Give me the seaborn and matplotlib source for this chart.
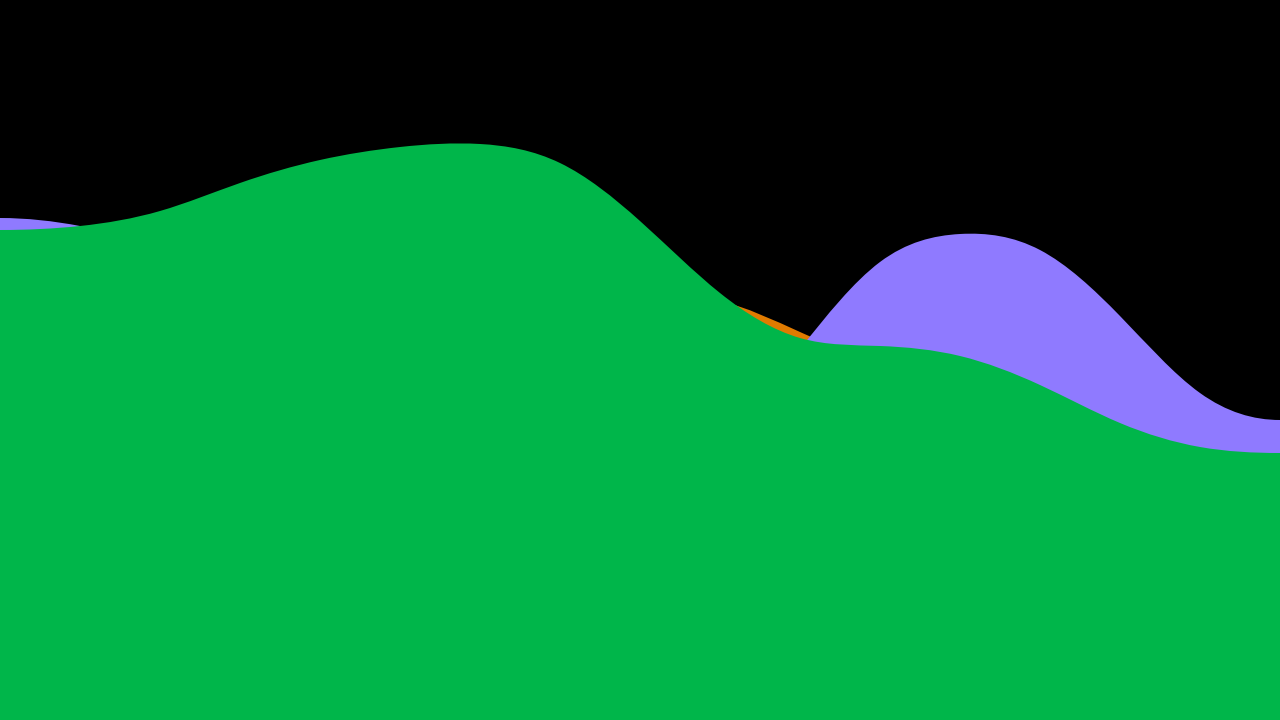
import numpy as np
import seaborn as sns
import matplotlib.pyplot as plt
from matplotlib.path import Path
from matplotlib.patches import PathPatch

# values, one per x step
x_steps = list(range(17))
green_vals = [490, 494, 509, 537, 560, 573, 576, 557, 499, 427, 382, 374, 364, 335, 297, 273, 267]
purple_vals = [502, 494, 475, 455, 435, 420, 400, 370, 320, 295, 371, 458, 486, 470, 404, 327, 300]
orange_vals = [420, 425, 430, 440, 450, 455, 458, 445, 428, 419, 388, 355, 330, 310, 280, 260, 250]

series_names = ['orange', 'purple', 'green']
series_colors = ['#E07B00', '#8F7AFF', '#00B64A']


def spline_tangents(x, y):
    # clamped cubic spline (flat ends), even x spacing
    x = np.asarray(x, float)
    y = np.asarray(y, float)
    n = len(x)
    h = x[1] - x[0]
    A = np.zeros((n, n))
    b = np.zeros(n)
    A[0, 0] = A[-1, -1] = 1.0
    for i in range(1, n - 1):
        A[i, i - 1], A[i, i], A[i, i + 1] = 1.0, 4.0, 1.0
        b[i] = 3 * (y[i + 1] - y[i - 1]) / h
    return np.linalg.solve(A, b)


def area_path(x, y, base=0.0):
    t = spline_tangents(x, y)
    verts = [(x[0], base), (x[0], y[0])]
    codes = [Path.MOVETO, Path.LINETO]
    for i in range(len(x) - 1):
        dx = (x[i + 1] - x[i]) / 3
        verts += [(x[i] + dx, y[i] + dx * t[i]),
                  (x[i + 1] - dx, y[i + 1] - dx * t[i + 1]),
                  (x[i + 1], y[i + 1])]
        codes += [Path.CURVE4] * 3
    verts += [(x[-1], base), (x[0], base)]
    codes += [Path.LINETO, Path.CLOSEPOLY]
    return Path(verts, codes)


sns.set_theme(style='dark', rc={'axes.facecolor': 'black', 'figure.facecolor': 'black'})
palette = sns.color_palette(series_colors)

fig = plt.figure(figsize=(12.8, 7.2), dpi=100)
ax = fig.add_axes([0, 0, 1, 1])
ax.set_facecolor('black')

for name, vals, col in zip(series_names, [orange_vals, purple_vals, green_vals], palette):
    ax.add_patch(PathPatch(area_path(x_steps, vals), facecolor=col, edgecolor='none', label=name))

ax.set_xlim(0, 16)
ax.set_ylim(0, 720)
ax.set_axis_off()

fig.savefig('out.png', dpi=100, facecolor='black')
